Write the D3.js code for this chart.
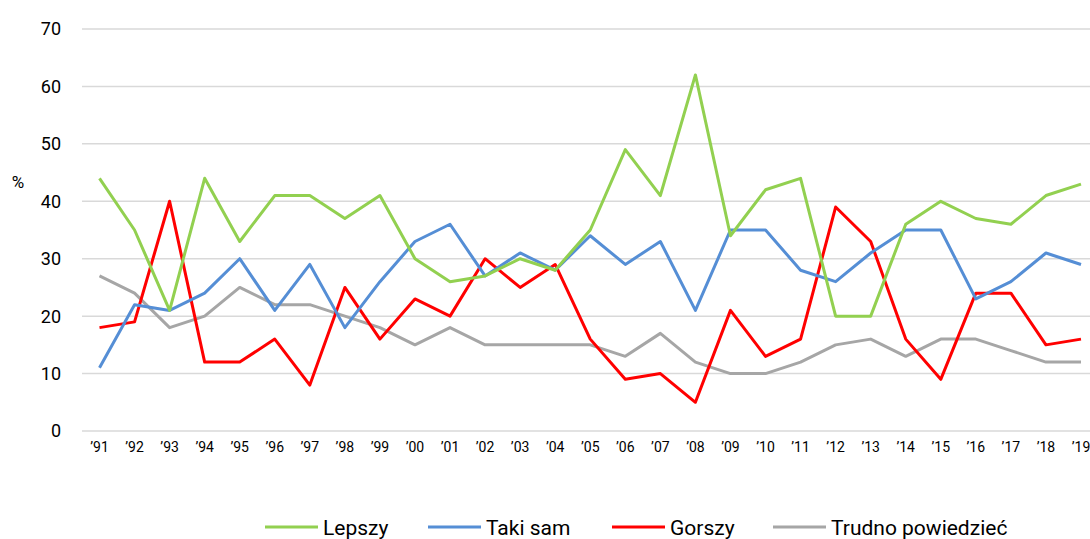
<!DOCTYPE html>
<html>
<head>
<meta charset="utf-8">
<script src="https://cdn.jsdelivr.net/npm/d3@7"></script>
<style>
  body { margin: 0; background: #fff; }
  text { font-family: Roboto, "Noto Sans", sans-serif; fill: #000; }
</style>
</head>
<body>
<div id="chart"></div>
<script>
// data
let years = ["’91","’92","’93","’94","’95","’96","’97","’98","’99","’00","’01","’02","’03","’04",
  "’05","’06","’07","’08","’09","’10","’11","’12","’13","’14","’15","’16","’17","’18","’19"];
let lepszy = [44,35,21,44,33,41,41,37,41,30,26,27,30,28,35,49,41,62,34,42,44,20,20,36,40,37,36,41,43];
let takiSam = [11,22,21,24,30,21,29,18,26,33,36,27,31,28,34,29,33,21,35,35,28,26,31,35,35,23,26,31,29];
let gorszy = [18,19,40,12,12,16,8,25,16,23,20,30,25,29,16,9,10,5,21,13,16,39,33,16,9,24,24,15,16];
let trudno = [27,24,18,20,25,22,22,20,18,15,18,15,15,15,15,13,17,12,10,10,12,15,16,13,16,16,14,12,12];
let yTicks = [0,10,20,30,40,50,60,70];

let series = [
  {name: "Lepszy", values: lepszy, color: "#92d050"},
  {name: "Taki sam", values: takiSam, color: "#558ed5"},
  {name: "Gorszy", values: gorszy, color: "#ff0000"},
  {name: "Trudno powiedzieć", values: trudno, color: "#a6a6a6"}
];

let width = 1090, height = 539;

let svg = d3.select("#chart").append("svg")
  .attr("width", width)
  .attr("height", height);

let x = d3.scalePoint()
  .domain(years)
  .range([99.5, 1081]);

let y = d3.scaleLinear()
  .domain([0, 70])
  .range([431, 29]);

// gridlines
svg.append("g")
  .selectAll("line")
  .data(yTicks)
  .enter()
  .append("line")
    .attr("x1", 82)
    .attr("x2", width)
    .attr("y1", d => y(d))
    .attr("y2", d => y(d))
    .attr("stroke", "#d9d9d9")
    .attr("stroke-width", 1.5);

// y labels
svg.append("g")
  .selectAll("text")
  .data(yTicks)
  .enter()
  .append("text")
    .attr("x", 61)
    .attr("y", d => y(d))
    .attr("dy", "0.36em")
    .attr("text-anchor", "end")
    .attr("font-size", 18)
    .text(d => d);

svg.append("text")
  .attr("x", 18)
  .attr("y", 182)
  .attr("dy", "0.36em")
  .attr("text-anchor", "middle")
  .attr("font-size", 17)
  .text("%");

// x labels
svg.append("g")
  .selectAll("text")
  .data(years)
  .enter()
  .append("text")
    .attr("x", d => x(d))
    .attr("y", 452)
    .attr("text-anchor", "middle")
    .attr("font-size", 14)
    .text(d => d);

let line = d3.line()
  .x((d, i) => x(years[i]))
  .y(d => y(d));

svg.append("g")
  .selectAll("path")
  .data(series.slice().reverse())
  .enter()
  .append("path")
    .attr("d", d => line(d.values))
    .attr("fill", "none")
    .attr("stroke", d => d.color)
    .attr("stroke-width", 3)
    .attr("stroke-linejoin", "round");

// legend
let legendX = [265, 428, 612, 773];
let legend = svg.append("g")
  .selectAll("g")
  .data(series)
  .enter()
  .append("g")
    .attr("transform", (d, i) => `translate(${legendX[i]},527)`);

legend.append("line")
  .attr("x1", 0).attr("x2", 53)
  .attr("stroke", d => d.color)
  .attr("stroke-width", 3);

legend.append("text")
  .attr("x", 58)
  .attr("dy", "0.36em")
  .attr("font-size", 21)
  .text(d => d.name);
</script>
</body>
</html>
